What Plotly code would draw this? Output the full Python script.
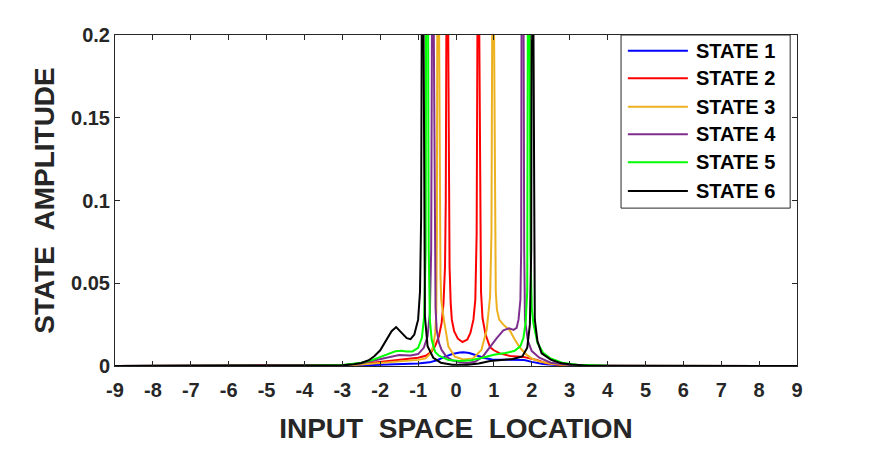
import plotly.graph_objects as go

NAMES = ["STATE 1", "STATE 2", "STATE 3", "STATE 4", "STATE 5", "STATE 6"]
COLORS = ["#0000FF", "#FF0000", "#EDB120", "#7E2F8E", "#00FF00", "#000000"]

X_S1 = [-9, -4, -3, -2.5, -2, -1.5, -1.0, -0.7, -0.5, -0.3, -0.1, 0.1, 0.2, 0.35, 0.55, 0.75, 0.95, 1.2, 1.5, 1.8, 2.0, 2.3, 2.7, 3.2, 4, 9]
Y_S1 = [0, 0.0001, 0.0002, 0.0004, 0.0007, 0.0011, 0.0015, 0.0022, 0.0035, 0.0055, 0.0072, 0.0082, 0.0083, 0.0078, 0.0062, 0.0048, 0.004, 0.0039, 0.004, 0.0036, 0.0025, 0.0012, 0.0005, 0.0001, 0, 0]

X_S2 = [-9, -4, -3, -2.5, -2, -1.5, -1, -0.8, -0.65, -0.55, -0.45, -0.38, -0.33, -0.29, -0.27, -0.255, -0.24, -0.23, -0.22, -0.205, -0.19, -0.17, -0.14, -0.11, -0.05, 0.05, 0.17, 0.3, 0.38, 0.46, 0.51, 0.545, 0.565, 0.58, 0.59, 0.6, 0.615, 0.635, 0.66, 0.7, 0.78, 0.9, 1.0, 1.16, 1.43, 1.78, 2.13, 2.4, 2.8, 3.2, 4, 9]
Y_S2 = [0, 0.0001, 0.0004, 0.0012, 0.0025, 0.0038, 0.005, 0.0062, 0.0085, 0.012, 0.018, 0.026, 0.038, 0.06, 0.1, 0.2, 0.5, 1.0, 0.5, 0.2, 0.1, 0.06, 0.038, 0.028, 0.021, 0.0165, 0.0145, 0.016, 0.02, 0.028, 0.04, 0.08, 0.2, 0.5, 1.0, 0.5, 0.2, 0.09, 0.045, 0.029, 0.019, 0.0113, 0.0095, 0.0076, 0.006, 0.0055, 0.0036, 0.0016, 0.0005, 0.0002, 0.00005, 0]

X_S3 = [-9, -4, -3, -2.5, -2, -1.5, -1, -0.8, -0.68, -0.6, -0.55, -0.52, -0.505, -0.495, -0.48, -0.47, -0.46, -0.445, -0.43, -0.41, -0.39, -0.32, -0.2, -0.03, 0.19, 0.45, 0.67, 0.81, 0.9, 0.935, 0.955, 0.97, 0.98, 0.99, 1.005, 1.025, 1.05, 1.08, 1.14, 1.25, 1.42, 1.55, 1.69, 1.85, 2.0, 2.2, 2.5, 3.0, 4, 9]
Y_S3 = [0, 0.0001, 0.0004, 0.0009, 0.0018, 0.003, 0.0037, 0.0046, 0.0075, 0.012, 0.02, 0.032, 0.08, 0.2, 0.5, 1.0, 0.5, 0.2, 0.09, 0.055, 0.04, 0.028, 0.0117, 0.0056, 0.004, 0.0046, 0.0097, 0.0218, 0.042, 0.08, 0.2, 0.5, 1.0, 0.5, 0.2, 0.08, 0.045, 0.034, 0.028, 0.025, 0.0215, 0.016, 0.011, 0.007, 0.0045, 0.0028, 0.0014, 0.0004, 0.0001, 0]

X_S4 = [-9, -4, -3, -2.5, -2, -1.8, -1.5, -1.2, -1.0, -0.85, -0.75, -0.69, -0.655, -0.635, -0.62, -0.61, -0.6, -0.585, -0.565, -0.54, -0.51, -0.45, -0.38, -0.25, -0.1, 0.1, 0.3, 0.5, 0.7, 0.9, 1.07, 1.25, 1.4, 1.52, 1.6, 1.65, 1.7, 1.72, 1.735, 1.75, 1.76, 1.77, 1.785, 1.8, 1.82, 1.9, 2.0, 2.2, 2.5, 3.0, 4, 9]
Y_S4 = [0, 0.0001, 0.0005, 0.0017, 0.0042, 0.0055, 0.0066, 0.0063, 0.0072, 0.011, 0.018, 0.032, 0.07, 0.2, 0.5, 1.0, 0.5, 0.2, 0.07, 0.035, 0.022, 0.014, 0.0097, 0.0055, 0.0035, 0.0022, 0.0018, 0.0025, 0.0055, 0.0117, 0.0167, 0.0215, 0.0228, 0.0218, 0.023, 0.028, 0.04, 0.07, 0.2, 0.5, 1.0, 0.5, 0.2, 0.07, 0.028, 0.015, 0.009, 0.005, 0.002, 0.0006, 0.0001, 0]

X_S5 = [-9, -4, -3, -2.5, -2.2, -2, -1.8, -1.6, -1.45, -1.3, -1.15, -1.0, -0.9, -0.84, -0.8, -0.785, -0.77, -0.76, -0.75, -0.735, -0.72, -0.69, -0.64, -0.55, -0.45, -0.2, 0.1, 0.4, 0.7, 1.0, 1.3, 1.55, 1.7, 1.78, 1.84, 1.88, 1.895, 1.91, 1.92, 1.93, 1.945, 1.965, 2.0, 2.04, 2.15, 2.3, 2.5, 2.8, 3.2, 4, 9]
Y_S5 = [0, 0.0001, 0.0006, 0.002, 0.0037, 0.0055, 0.0075, 0.0089, 0.0092, 0.0087, 0.0088, 0.011, 0.017, 0.03, 0.07, 0.2, 0.5, 1.0, 0.5, 0.2, 0.07, 0.028, 0.0157, 0.0085, 0.0062, 0.0036, 0.003, 0.0035, 0.005, 0.0068, 0.0078, 0.0092, 0.012, 0.017, 0.027, 0.045, 0.2, 0.5, 1.0, 0.5, 0.2, 0.07, 0.035, 0.026, 0.014, 0.008, 0.0045, 0.002, 0.0007, 0.0001, 0]

X_S6 = [-9, -4, -3, -2.7, -2.5, -2.3, -2.15, -2.0, -1.85, -1.7, -1.58, -1.45, -1.3, -1.2, -1.1, -1.0, -0.95, -0.92, -0.905, -0.89, -0.88, -0.87, -0.855, -0.84, -0.82, -0.75, -0.6, -0.4, -0.1, 0.3, 0.6, 0.9, 1.2, 1.5, 1.75, 1.88, 1.95, 1.985, 1.995, 2.01, 2.02, 2.03, 2.045, 2.06, 2.08, 2.15, 2.26, 2.52, 2.79, 3.05, 3.5, 4, 9]
Y_S6 = [0, 0.0001, 0.0004, 0.001, 0.0018, 0.0035, 0.006, 0.0095, 0.015, 0.021, 0.0235, 0.0205, 0.0168, 0.0162, 0.019, 0.028, 0.045, 0.09, 0.2, 0.5, 1.0, 0.5, 0.2, 0.07, 0.03, 0.012, 0.005, 0.002, 0.0008, 0.0008, 0.0015, 0.003, 0.0035, 0.0042, 0.0058, 0.011, 0.025, 0.07, 0.2, 0.5, 1.0, 0.5, 0.2, 0.07, 0.028, 0.015, 0.0077, 0.0036, 0.0016, 0.0009, 0.0002, 0.0001, 0]

X_TICKS = list(range(-9, 10))
Y_TICKS = [0, 0.05, 0.1, 0.15, 0.2]
Y_TICK_TEXT = ["0", "0.05", "0.1", "0.15", "0.2"]

SERIES = [(X_S1, Y_S1), (X_S2, Y_S2), (X_S3, Y_S3), (X_S4, Y_S4), (X_S5, Y_S5), (X_S6, Y_S6)]

FONT = "Liberation Sans, Arial, Helvetica, sans-serif"
TXT = "#262626"

fig = go.Figure()
for (xs, ys), name, col in zip(SERIES, NAMES, COLORS):
    fig.add_trace(go.Scatter(x=xs, y=ys, mode="lines", name=name,
                             line=dict(color=col, width=2), showlegend=False))

axis_common = dict(showline=True, linecolor=TXT, linewidth=1, mirror="ticks",
                   ticks="inside", ticklen=5, tickcolor=TXT, showgrid=False,
                   zeroline=False, tickfont=dict(family=FONT, size=20, color=TXT, weight="bold"))

fig.update_layout(
    width=880, height=456,
    margin=dict(l=115, r=83, t=35, b=90),
    paper_bgcolor="white", plot_bgcolor="white",
    xaxis=dict(range=[-9, 9], tickvals=X_TICKS, ticktext=[str(t) for t in X_TICKS],
               ticklabelstandoff=6,
               title=dict(text="INPUT\u00a0\u00a0SPACE\u00a0\u00a0LOCATION",
                          font=dict(family=FONT, size=28, color=TXT, weight="bold"), standoff=18),
               **axis_common),
    yaxis=dict(range=[0, 0.2], tickvals=Y_TICKS, ticktext=Y_TICK_TEXT,
               title=dict(text="STATE\u00a0\u00a0AMPLITUDE",
                          font=dict(family=FONT, size=28, color=TXT, weight="bold"), standoff=8),
               **axis_common),
)

# Legend box (drawn in paper coordinates)
lx0, lx1, ly0, ly1 = 0.742, 0.990, 0.477, 1.0
fig.add_shape(type="rect", xref="paper", yref="paper", x0=lx0, x1=lx1, y0=ly0, y1=ly1,
              line=dict(color=TXT, width=1), fillcolor="white", layer="above")
row_y = [0.9526, 0.8692, 0.7834, 0.6999, 0.6153, 0.5287]
for name, col, ry in zip(NAMES, COLORS, row_y):
    fig.add_shape(type="line", xref="paper", yref="paper", x0=0.752, x1=0.840, y0=ry, y1=ry,
                  line=dict(color=col, width=2), layer="above")
    fig.add_annotation(xref="paper", yref="paper", x=0.849, y=ry, text=name, showarrow=False,
                       xanchor="left", yanchor="middle",
                       font=dict(family=FONT, size=20, color="#000000", weight="bold"))

fig.write_html("out.html")
